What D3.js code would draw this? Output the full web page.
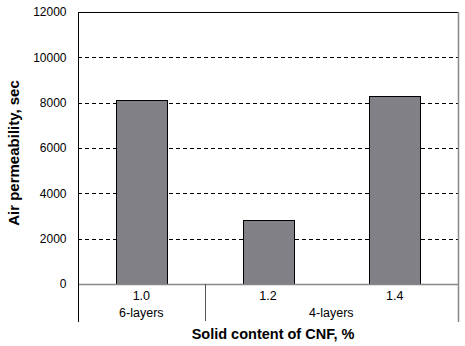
<!DOCTYPE html>
<html>
<head>
<meta charset="utf-8">
<script src="https://cdn.jsdelivr.net/npm/d3@7"></script>
<style>
    body { margin: 0; background: #fff; }
    svg { font-family: Arial, "Liberation Sans", sans-serif; }
</style>
</head>
<body>
<svg id="chart" width="465" height="346"></svg>
<script>
// data
var categories = [ '1.0', '1.2', '1.4' ];
var values = [ 8100, 2820, 8280 ];
var groups = [ { label: '6-layers', from: 0, to: 0 }, { label: '4-layers', from: 1, to: 2 } ];
var yTicks = [ 0, 2000, 4000, 6000, 8000, 10000, 12000 ];

var plotLeft = 78, plotRight = 458, plotTop = 12, plotBottom = 284;

var svg = d3.select( '#chart' );

var x = d3.scaleBand()
    .domain( categories )
    .range( [ plotLeft, plotRight ] )
    .paddingInner( 0.6 )
    .paddingOuter( 0.3 );

var band = ( plotRight - plotLeft ) / categories.length;

var y = d3.scaleLinear()
    .domain( [ 0, 12000 ] )
    .range( [ plotBottom, plotTop ] );

// dashed gridlines
svg.append( 'g' )
    .selectAll( 'line' )
    .data( yTicks.filter( function( d ) { return d > 0 && d < 12000; } ) )
    .enter().append( 'line' )
        .attr( 'x1', plotLeft )
        .attr( 'x2', plotRight )
        .attr( 'y1', function( d ) { return Math.round( y( d ) ) + 0.5; } )
        .attr( 'y2', function( d ) { return Math.round( y( d ) ) + 0.5; } )
        .style( 'stroke', '#000' )
        .style( 'stroke-dasharray', '4,3' );

// bars
svg.append( 'g' )
    .selectAll( 'rect' )
    .data( values )
    .enter().append( 'rect' )
        .attr( 'x', function( d, i ) { return Math.round( x( categories[ i ] ) ) + 0.5; } )
        .attr( 'y', function( d ) { return Math.round( y( d ) ) + 0.5; } )
        .attr( 'width', Math.round( x.bandwidth() ) )
        .attr( 'height', function( d ) { return Math.round( y( 0 ) ) - Math.round( y( d ) ); } )
        .style( 'fill', '#808086' )
        .style( 'stroke', '#000' );

// top border
svg.append( 'line' )
    .attr( 'x1', plotLeft ).attr( 'x2', plotRight )
    .attr( 'y1', plotTop + 0.5 ).attr( 'y2', plotTop + 0.5 )
    .style( 'stroke', '#000' );

// right border
svg.append( 'line' )
    .attr( 'x1', plotRight + 0.5 ).attr( 'x2', plotRight + 0.5 )
    .attr( 'y1', plotTop ).attr( 'y2', 322 )
    .style( 'stroke', '#888' ).style( 'stroke-width', 1.5 );

// zero line
svg.append( 'line' )
    .attr( 'x1', plotLeft ).attr( 'x2', plotRight )
    .attr( 'y1', y( 0 ) + 0.5 ).attr( 'y2', y( 0 ) + 0.5 )
    .style( 'stroke', '#888' ).style( 'stroke-width', 1.5 );

// y axis
var yAxis = svg.append( 'g' )
    .attr( 'transform', 'translate(' + ( plotLeft + 0.5 ) + ',0)' )
    .call( d3.axisLeft( y ).tickValues( yTicks ).tickFormat( d3.format( 'd' ) ).tickSize( 0 ).tickPadding( 12 ) );
yAxis.select( '.domain' ).remove();
yAxis.selectAll( 'text' ).style( 'font-size', '12px' ).style( 'fill', '#000' )
    .style( 'font-family', 'Arial, "Liberation Sans", sans-serif' );

svg.append( 'line' )
    .attr( 'x1', plotLeft + 0.5 ).attr( 'x2', plotLeft + 0.5 )
    .attr( 'y1', plotTop ).attr( 'y2', 322 )
    .style( 'stroke', '#000' );

// category labels
svg.append( 'g' )
    .selectAll( 'text' )
    .data( categories )
    .enter().append( 'text' )
        .attr( 'x', function( d ) { return x( d ) + x.bandwidth() / 2; } )
        .attr( 'y', 300 )
        .attr( 'text-anchor', 'middle' )
        .style( 'font-size', '12.5px' )
        .text( function( d ) { return d; } );

// group labels and separators
svg.append( 'g' )
    .selectAll( 'text' )
    .data( groups )
    .enter().append( 'text' )
        .attr( 'x', function( d ) { return plotLeft + band * ( d.from + d.to + 1 ) / 2; } )
        .attr( 'y', 317 )
        .attr( 'text-anchor', 'middle' )
        .style( 'font-size', '12.5px' )
        .text( function( d ) { return d.label; } );

svg.append( 'g' )
    .selectAll( 'line' )
    .data( groups.slice( 1 ) )
    .enter().append( 'line' )
        .attr( 'x1', function( d ) { return Math.round( plotLeft + band * d.from ) + 0.5; } )
        .attr( 'x2', function( d ) { return Math.round( plotLeft + band * d.from ) + 0.5; } )
        .attr( 'y1', plotBottom )
        .attr( 'y2', 321 )
        .style( 'stroke', '#555' );

// axis titles
svg.append( 'text' )
    .attr( 'x', 273 )
    .attr( 'y', 339 )
    .attr( 'text-anchor', 'middle' )
    .style( 'font-size', '14.5px' )
    .style( 'font-weight', 'bold' )
    .text( 'Solid content of CNF, %' );

svg.append( 'text' )
    .attr( 'transform', 'translate(19,153) rotate(-90)' )
    .attr( 'text-anchor', 'middle' )
    .style( 'font-size', '15px' )
    .style( 'font-weight', 'bold' )
    .text( 'Air permeability, sec' );
</script>
</body>
</html>
